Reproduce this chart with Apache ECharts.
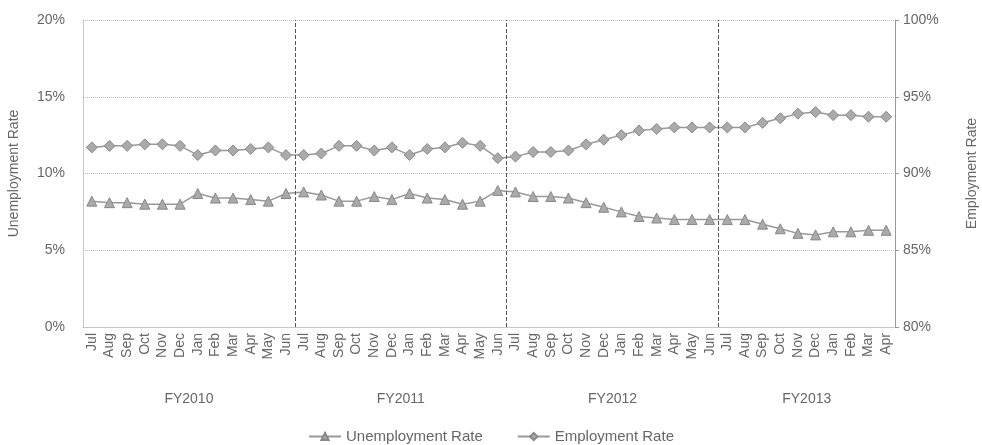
<!DOCTYPE html>
<html>
<head>
<meta charset="utf-8">
<script src="https://cdn.jsdelivr.net/npm/echarts@6/dist/echarts.min.js"></script>
<style>
html, body { margin: 0; padding: 0; background: #fff; }
#chart { width: 982px; height: 445px; }
</style>
</head>
<body>
<div id="chart"></div>
<script>
// month labels, Jul 2009 .. Apr 2013
const months = [
  'Jul', 'Aug', 'Sep', 'Oct', 'Nov', 'Dec', 'Jan', 'Feb', 'Mar', 'Apr', 'May', 'Jun',
  'Jul', 'Aug', 'Sep', 'Oct', 'Nov', 'Dec', 'Jan', 'Feb', 'Mar', 'Apr', 'May', 'Jun',
  'Jul', 'Aug', 'Sep', 'Oct', 'Nov', 'Dec', 'Jan', 'Feb', 'Mar', 'Apr', 'May', 'Jun',
  'Jul', 'Aug', 'Sep', 'Oct', 'Nov', 'Dec', 'Jan', 'Feb', 'Mar', 'Apr'
]
const fiscalYears = ['FY2010', 'FY2011', 'FY2012', 'FY2013']
const fiscalMonths = [12, 12, 12, 10]

const unemployment = [
  8.2, 8.1, 8.1, 8.0, 8.0, 8.0, 8.7, 8.4, 8.4, 8.3, 8.2, 8.7,
  8.8, 8.6, 8.2, 8.2, 8.5, 8.3, 8.7, 8.4, 8.3, 8.0, 8.2, 8.9,
  8.8, 8.5, 8.5, 8.4, 8.1, 7.8, 7.5, 7.2, 7.1, 7.0, 7.0, 7.0,
  7.0, 7.0, 6.7, 6.4, 6.1, 6.0, 6.2, 6.2, 6.3, 6.3
]
const employment = [
  91.7, 91.8, 91.8, 91.9, 91.9, 91.8, 91.2, 91.5, 91.5, 91.6, 91.7, 91.2,
  91.2, 91.3, 91.8, 91.8, 91.5, 91.7, 91.2, 91.6, 91.7, 92.0, 91.8, 91.0,
  91.1, 91.4, 91.4, 91.5, 91.9, 92.2, 92.5, 92.8, 92.9, 93.0, 93.0, 93.0,
  93.0, 93.0, 93.3, 93.6, 93.9, 94.0, 93.8, 93.8, 93.7, 93.7
]

// fiscal year start indexes and label centres, in month units
const fyStarts = []
const fyCenters = {}
let acc = 0
fiscalMonths.forEach((n, i) => {
  if (i > 0) fyStarts.push(acc)
  fyCenters[acc + n / 2] = fiscalYears[i]
  acc += n
})

const font = '"Liberation Sans", Arial, sans-serif'
const txt = '#666'

const chart = echarts.init(document.getElementById('chart'))
chart.setOption({
  animation: false,
  textStyle: { fontFamily: font },
  grid: { left: 83, right: 87, top: 20, bottom: 118, outerBoundsMode: 'none' },
  legend: {
    data: ['Unemployment Rate', 'Employment Rate'],
    top: 424,
    left: 'center',
    itemWidth: 32,
    itemHeight: 9,
    itemGap: 34,
    textStyle: { fontSize: 15, color: txt, fontFamily: font }
  },
  xAxis: [
    {
      type: 'category',
      data: months,
      boundaryGap: true,
      axisLine: { lineStyle: { color: '#bbb', type: 'dotted' } },
      axisTick: { show: false },
      axisLabel: { rotate: 90, interval: 0, fontSize: 14, color: txt, margin: 6 }
    },
    {
      type: 'value',
      min: 0,
      max: months.length,
      interval: 1,
      position: 'bottom',
      axisLine: { show: false },
      axisTick: { show: false },
      splitLine: { show: false },
      axisLabel: {
        margin: 65,
        fontSize: 14,
        color: txt,
        showMinLabel: true,
        showMaxLabel: true,
        formatter: v => fyCenters[v] || ''
      }
    }
  ],
  yAxis: [
    {
      type: 'value',
      min: 0,
      max: 20,
      interval: 5,
      name: 'Unemployment Rate',
      nameLocation: 'middle',
      nameGap: 62,
      nameTextStyle: { fontSize: 14, color: txt },
      axisLine: { show: true, lineStyle: { color: '#bbb', type: 'dotted' } },
      axisTick: { show: false },
      splitLine: { lineStyle: { color: '#bbb', type: 'dotted' } },
      axisLabel: { formatter: '{value}%', fontSize: 14, color: txt, margin: 18 }
    },
    {
      type: 'value',
      min: 80,
      max: 100,
      interval: 5,
      position: 'right',
      name: 'Employment Rate',
      nameLocation: 'middle',
      nameGap: 70,
      nameRotate: 90,
      nameTextStyle: { fontSize: 14, color: txt },
      axisLine: { show: true, lineStyle: { color: '#999' } },
      axisTick: { show: true, length: 4, lineStyle: { color: '#999' } },
      splitLine: { show: false },
      axisLabel: { formatter: '{value}%', fontSize: 14, color: txt, margin: 8 }
    }
  ],
  series: [
    {
      name: 'Unemployment Rate',
      type: 'line',
      data: unemployment,
      yAxisIndex: 0,
      symbol: 'triangle',
      symbolSize: 10,
      lineStyle: { color: '#999', width: 1.5 },
      itemStyle: { color: '#aaa', borderColor: '#888', borderWidth: 1 }
    },
    {
      name: 'Employment Rate',
      type: 'line',
      data: employment,
      yAxisIndex: 1,
      symbol: 'diamond',
      symbolSize: 11,
      lineStyle: { color: '#999', width: 1.5 },
      itemStyle: { color: '#aaa', borderColor: '#888', borderWidth: 1 }
    },
    {
      // fiscal year separators
      type: 'line',
      xAxisIndex: 1,
      yAxisIndex: 0,
      data: [],
      markLine: {
        silent: true,
        symbol: 'none',
        label: { show: false },
        lineStyle: { color: '#555', type: 'dashed', width: 1 },
        data: fyStarts.map(x => ({ xAxis: x }))
      }
    }
  ]
})
</script>
</body>
</html>
